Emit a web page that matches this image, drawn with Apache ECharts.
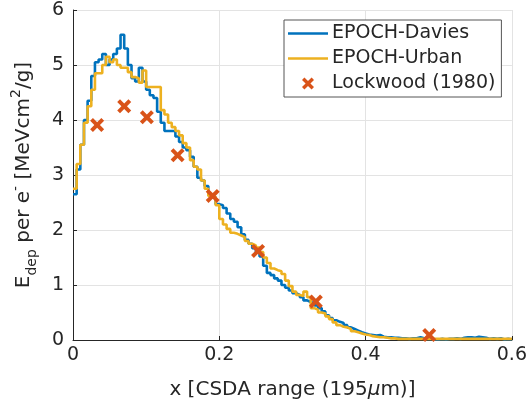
<!DOCTYPE html>
<html>
<head>
<meta charset="utf-8">
<script src="https://cdn.jsdelivr.net/npm/echarts@6/dist/echarts.min.js"></script>
<style>
  html, body { margin: 0; padding: 0; background: #fff; }
  #main { width: 530px; height: 410px; }
</style>
</head>
<body>
<div id="main"></div>
<script>
// x grid shared by both simulation curves (step 0.005)
var xStep = 0.005;

// EPOCH-Davies, one value per x step from 0
var daviesVals = [
  2.65, 3.1, 3.55, 4.0, 4.35, 4.8, 5.05, 5.1, 5.2, 5.0,
  5.1, 5.2, 5.3, 5.55, 5.3, 5.0, 4.76, 4.7, 4.95, 4.7,
  4.55, 4.45, 4.4, 4.15, 3.95, 3.8, 3.8, 3.8, 3.7, 3.6,
  3.5, 3.45, 3.33, 3.15, 2.95, 2.9, 2.8, 2.65, 2.6, 2.47,
  2.45, 2.4, 2.3, 2.2, 2.15, 2.05, 1.92, 1.82, 1.75, 1.67,
  1.6, 1.52, 1.35, 1.22, 1.18, 1.12, 1.08, 1.0, 0.95, 0.9,
  0.85, 0.82, 0.78, 0.72, 0.69, 0.67, 0.63, 0.58, 0.52, 0.45,
  0.4, 0.36, 0.33, 0.31, 0.27, 0.23, 0.2, 0.17, 0.14, 0.12,
  0.1, 0.09, 0.08, 0.09, 0.06, 0.05, 0.05, 0.04, 0.04, 0.03,
  0.03, 0.02, 0.03, 0.03, 0.05, 0.03, 0.02, 0.02, 0.01, 0.01,
  0.02, 0.01, 0.02, 0.02, 0.03, 0.02, 0.04, 0.05, 0.05, 0.04,
  0.06, 0.05, 0.04, 0.02, 0.03, 0.02, 0.03, 0.01, 0.02, 0.01, 0.01
];

// EPOCH-Urban
var urbanVals = [
  2.75, 3.2, 3.55, 3.95, 4.25, 4.55, 4.85, 4.85, 5.0, 5.15,
  5.05, 5.1, 5.0, 4.95, 4.95, 4.87, 4.78, 4.76, 4.68, 4.9,
  4.6, 4.6, 4.6, 4.6, 4.18, 4.1, 3.95, 3.87, 3.8, 3.72,
  3.58, 3.5, 3.27, 3.15, 3.1, 2.9, 2.75, 2.62, 2.6, 2.45,
  2.2, 2.1, 2.02, 1.95, 1.93, 1.9, 1.87, 1.8, 1.75, 1.72,
  1.68, 1.6, 1.5, 1.4, 1.3, 1.27, 1.25, 1.2, 1.08, 0.98,
  0.88, 0.82, 0.8, 0.88, 0.78, 0.58, 0.55, 0.5, 0.48, 0.43,
  0.38, 0.32, 0.27, 0.24, 0.23, 0.2, 0.16, 0.14, 0.12, 0.1,
  0.09, 0.07, 0.06, 0.05, 0.05, 0.04, 0.03, 0.03, 0.02, 0.02,
  0.02, 0.02, 0.02, 0.02, 0.02, 0.02, 0.02, 0.02, 0.02, 0.02,
  0.02, 0.02, 0.02, 0.02, 0.02, 0.02, 0.02, 0.02, 0.02, 0.02,
  0.02, 0.02, 0.02, 0.02, 0.02, 0.02, 0.02, 0.02, 0.02, 0.02, 0.02
];

// Lockwood (1980) measurements
var lockwoodX = [0.033, 0.070, 0.101, 0.143, 0.191, 0.253, 0.332, 0.487];
var lockwoodY = [3.91, 4.25, 4.05, 3.36, 2.62, 1.62, 0.70, 0.09];

var xTicks = [0, 0.2, 0.4, 0.6];
var yTicks = [0, 1, 2, 3, 4, 5, 6];

function pairs(vals) {
  return vals.map(function (v, i) { return [+(i * xStep).toFixed(3), v]; });
}

var xMark = 'path://M0,2 L2,0 L5,3 L8,0 L10,2 L7,5 L10,8 L8,10 L5,7 L2,10 L0,8 L3,5 Z';
var lineIcon = 'path://M0,0 L40,0 L40,2.6 L0,2.6 Z';

var chart = echarts.init(document.getElementById('main'), null, { renderer: 'canvas' });

var axisColor = '#262626';
var gridColor = '#e3e3e3';
var font = 'DejaVu Sans';

var option = {
  animation: false,
  textStyle: { fontFamily: font },
  grid: { left: 73, right: 18, top: 10, bottom: 70 },
  legend: {
    left: 284,
    top: 20,
    orient: 'vertical',
    backgroundColor: '#fff',
    borderColor: '#555',
    borderWidth: 1,
    borderRadius: 0,
    padding: [3, 6, 3, 4],
    itemWidth: 40,
    itemHeight: 12,
    itemGap: 4,
    textStyle: { fontFamily: font, fontSize: 19, lineHeight: 21, color: '#262626', padding: [0, 0, 0, -1] },
    data: [
      { name: 'EPOCH-Davies', icon: lineIcon },
      { name: 'EPOCH-Urban', icon: lineIcon },
      { name: 'Lockwood (1980)', icon: xMark, itemStyle: { color: '#D95319' } }
    ]
  },
  xAxis: {
    type: 'value',
    min: 0,
    max: 0.6,
    interval: 0.2,
    name: 'x [CSDA range (195{mu|μ}m)]',
    nameLocation: 'middle',
    nameGap: 40,
    nameTextStyle: {
      fontFamily: font, fontSize: 20, color: axisColor,
      rich: { mu: { fontFamily: font, fontSize: 20, fontStyle: 'italic', color: axisColor } }
    },
    axisLine: { show: true, lineStyle: { color: axisColor, width: 1 } },
    axisTick: { show: true, inside: true, length: 4, lineStyle: { color: axisColor } },
    axisLabel: {
      fontFamily: font, fontSize: 19, color: axisColor, margin: 6,
      formatter: function (v) { return xTicks.indexOf(+v.toFixed(1)) >= 0 ? String(+v.toFixed(1)) : ''; }
    },
    splitLine: { show: true, lineStyle: { color: gridColor, width: 1 } }
  },
  yAxis: {
    type: 'value',
    min: 0,
    max: 6,
    interval: 1,
    name: '{n|E}{s|dep}{n| per e}{p|-}{n| [MeVcm}{p|2}{n|/g]}',
    nameLocation: 'middle',
    nameGap: 34,
    nameTextStyle: {
      fontFamily: font, color: axisColor,
      rich: {
        n: { fontFamily: font, fontSize: 20, lineHeight: 30, color: axisColor, verticalAlign: 'middle' },
        s: { fontFamily: font, fontSize: 14, lineHeight: 14, color: axisColor, verticalAlign: 'bottom' },
        p: { fontFamily: font, fontSize: 14, lineHeight: 14, color: axisColor, verticalAlign: 'top' }
      }
    },
    axisLine: { show: true, lineStyle: { color: axisColor, width: 1 } },
    axisTick: { show: true, inside: true, length: 4, lineStyle: { color: axisColor } },
    axisLabel: {
      fontFamily: font, fontSize: 19, color: axisColor, margin: 9,
      formatter: function (v) { return yTicks.indexOf(v) >= 0 ? String(v) : ''; }
    },
    splitLine: { show: true, lineStyle: { color: gridColor, width: 1 } }
  },
  series: [
    {
      name: 'EPOCH-Davies',
      type: 'line',
      step: 'end',
      showSymbol: false,
      symbol: 'none',
      color: '#0072BD',
      lineStyle: { color: '#0072BD', width: 2.6 },
      data: pairs(daviesVals),
      z: 2
    },
    {
      name: 'EPOCH-Urban',
      type: 'line',
      step: 'end',
      showSymbol: false,
      symbol: 'none',
      color: '#EDB120',
      lineStyle: { color: '#EDB120', width: 2.6 },
      data: pairs(urbanVals),
      z: 3
    },
    {
      name: 'Lockwood (1980)',
      type: 'scatter',
      symbol: xMark,
      symbolSize: 14,
      itemStyle: { color: '#D95319', opacity: 1 },
      data: lockwoodX.map(function (x, i) { return [x, lockwoodY[i]]; }),
      z: 4
    }
  ]
};

chart.setOption(option);
</script>
</body>
</html>
